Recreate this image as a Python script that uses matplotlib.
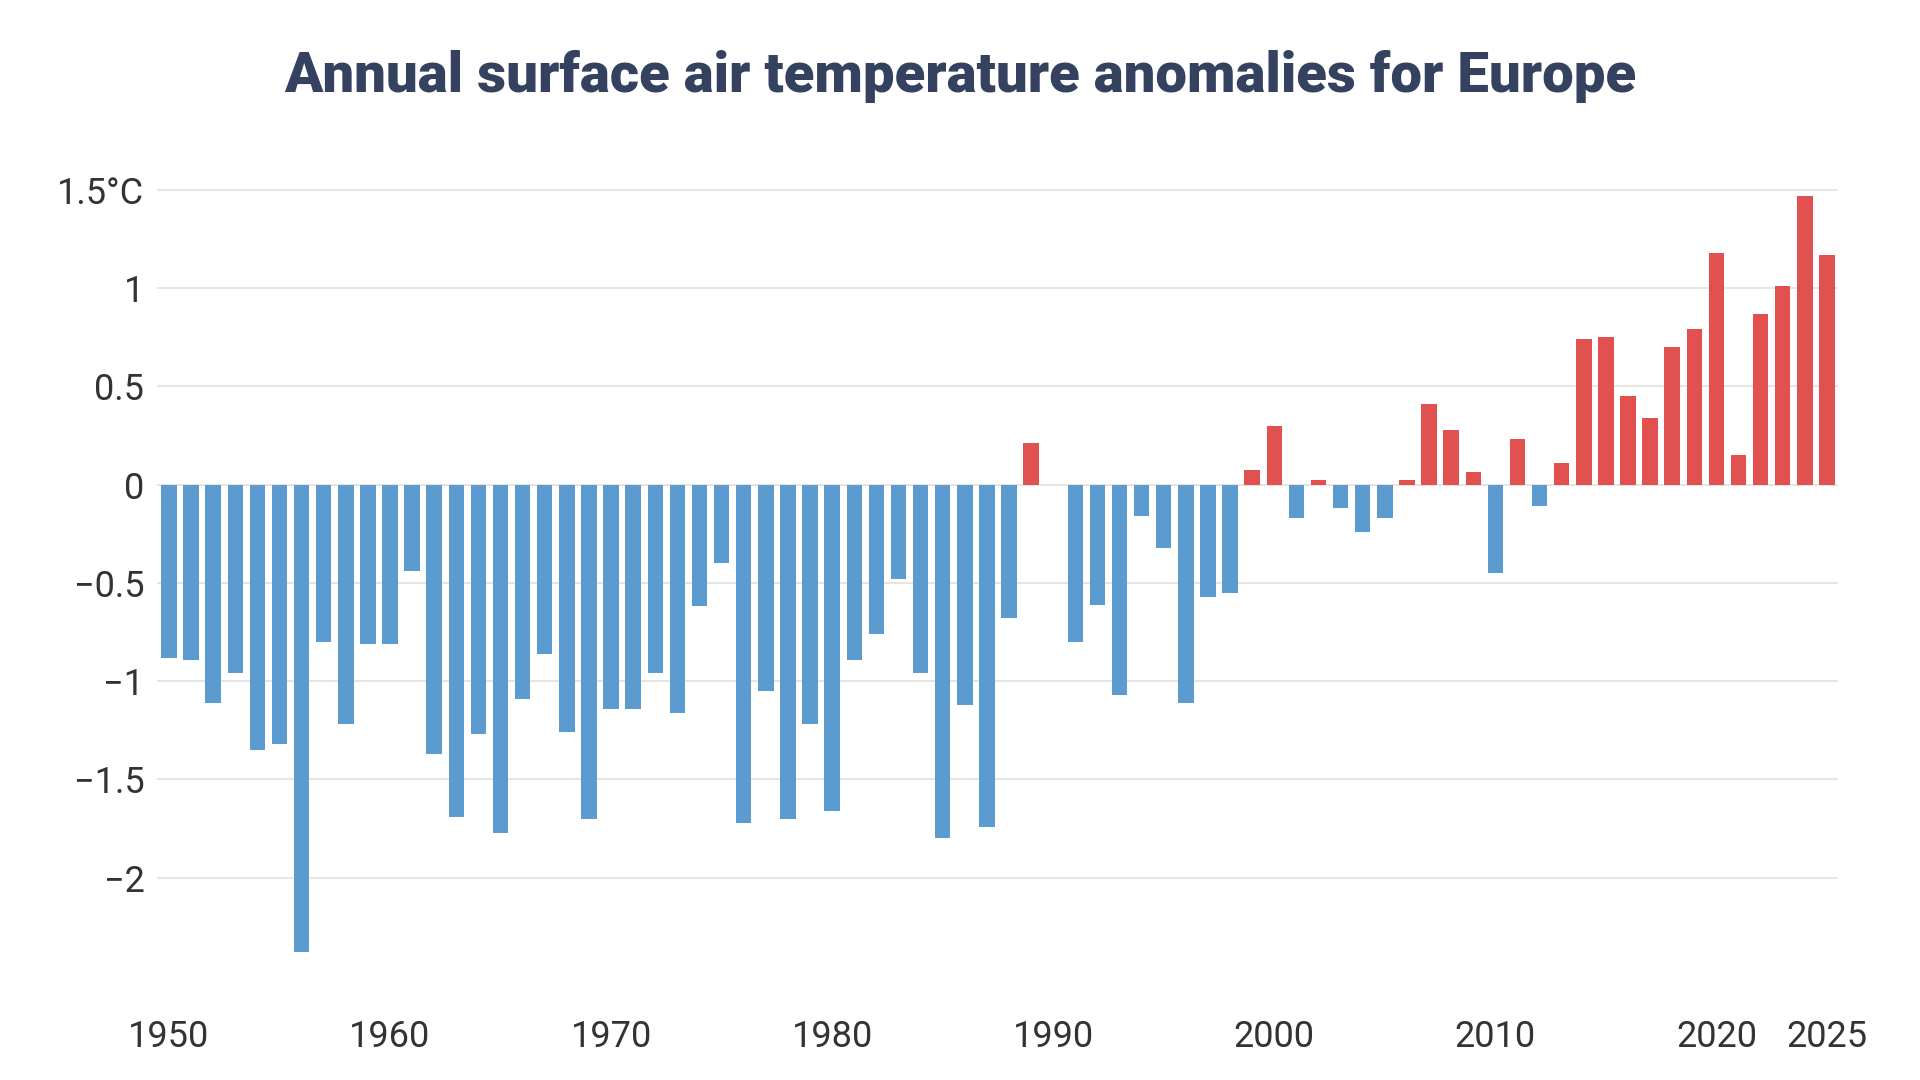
import matplotlib
matplotlib.use("Agg")
import matplotlib.pyplot as plt
import numpy as np

years = list(range(1950, 2026))
anomalies = [
    -0.88, -0.89, -1.11, -0.96, -1.35, -1.32, -2.38, -0.80, -1.22, -0.81,
    -0.81, -0.44, -1.37, -1.69, -1.27, -1.77, -1.09, -0.86, -1.26, -1.70,
    -1.14, -1.14, -0.96, -1.16, -0.62, -0.40, -1.72, -1.05, -1.70, -1.22,
    -1.66, -0.89, -0.76, -0.48, -0.96, -1.80, -1.12, -1.74, -0.68, 0.21,
    0.00, -0.80, -0.61, -1.07, -0.16, -0.32, -1.11, -0.57, -0.55, 0.075,
    0.30, -0.17, 0.025, -0.12, -0.24, -0.17, 0.025, 0.41, 0.28, 0.065,
    -0.45, 0.23, -0.11, 0.11, 0.74, 0.75, 0.45, 0.34, 0.70, 0.79,
    1.18, 0.15, 0.87, 1.01, 1.47, 1.17,
]
y_ticks = [1.5, 1, 0.5, 0, -0.5, -1, -1.5, -2]
y_tick_labels = ["1.5°C", "1", "0.5", "0", "\u22120.5", "\u22121", "\u22121.5", "\u22122"]
x_ticks = [1950, 1960, 1970, 1980, 1990, 2000, 2010, 2020, 2025]
title = "Annual surface air temperature anomalies for Europe"

BLUE = "#5b9bd0"
RED = "#e0514f"
TEXT = "#333333"
TITLE_C = "#344260"

plt.rcParams['font.family'] = ['Roboto', 'DejaVu Sans']

fig = plt.figure(figsize=(19.2, 10.8), dpi=100)
fig.patch.set_facecolor("white")
ax = fig.add_axes([157/1920, (1080-976)/1080, (1838-157)/1920, (976-180)/1080])

colors = [RED if v > 0 else BLUE for v in anomalies]
ax.bar(years, anomalies, width=0.7, color=colors, zorder=3)

ax.set_xlim(1949.46, 2025.5)
ax.set_ylim(-2.5, 1.55)
ax.set_yticks(y_ticks)
ax.set_yticklabels(y_tick_labels)
ax.set_xticks(x_ticks)
ax.set_xticklabels([str(x) for x in x_ticks])
for y in y_ticks:
    ax.axhline(y, color="#e3e3e3", linewidth=1.3, zorder=1)
for s in ax.spines.values():
    s.set_visible(False)
ax.tick_params(axis='both', length=0, labelsize=26, colors=TEXT)
ax.tick_params(axis='y', pad=9)
ax.tick_params(axis='x', pad=31)

fig.text(0.5, 1 - 76/1080, title, ha="center", va="center",
         fontsize=40.6, fontweight="black", color=TITLE_C)

fig.savefig("out.png", dpi=100, facecolor="white")
